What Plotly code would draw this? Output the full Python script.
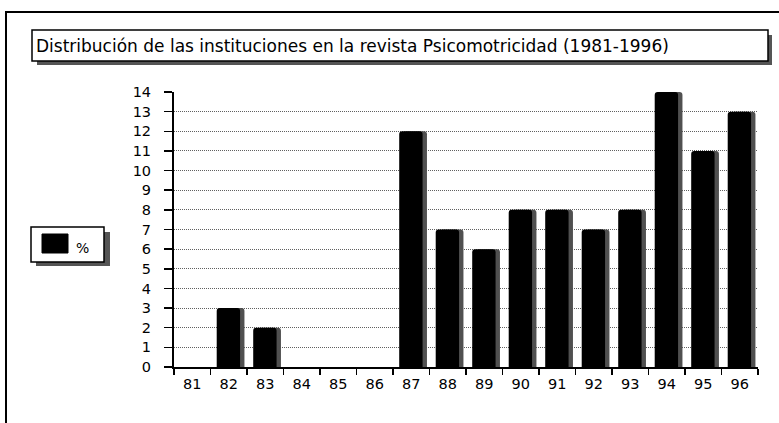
import plotly.graph_objects as go

categories = ["81", "82", "83", "84", "85", "86", "87", "88", "89", "90", "91", "92", "93", "94", "95", "96"]
values = [0, 3, 2, 0, 0, 0, 12, 7, 6, 8, 8, 7, 8, 14, 11, 13]
y_ticks = list(range(0, 15))
title_text = "Distribución de las instituciones en la revista Psicomotricidad (1981-1996)"
legend_label = "%"

W, H = 779, 423
L, R, T, B = 174, 21, 92, 56
pw, ph = W - L - R, H - T - B

def px(x):
    return (x - L) / pw

def py(y):
    return (H - B - y) / ph

FONT = "DejaVu Sans, Verdana, sans-serif"

fig = go.Figure()
# shadow bars
fig.add_trace(go.Bar(x=categories, y=values, width=0.64, offset=-0.21,
                     marker=dict(color="#505050", line=dict(width=0), cornerradius=3),
                     showlegend=False, hoverinfo="skip"))
# main bars
fig.add_trace(go.Bar(x=categories, y=values, width=0.64, offset=-0.33, name=legend_label,
                     marker=dict(color="#000000", line=dict(width=0), cornerradius=3),
                     showlegend=False))

shapes = []
# outer frame (left and top lines)
shapes.append(dict(type="path", xref="paper", yref="paper",
                   path=f"M {px(6)},{py(440)} L {px(6)},{py(12)} L {px(790)},{py(12)}",
                   line=dict(color="black", width=2)))
# title box shadow + box
shapes.append(dict(type="rect", xref="paper", yref="paper",
                   x0=px(37), x1=px(772), y0=py(65), y1=py(35),
                   fillcolor="#555555", line=dict(width=0), layer="below"))
shapes.append(dict(type="rect", xref="paper", yref="paper",
                   x0=px(32), x1=px(768), y0=py(61), y1=py(30),
                   fillcolor="white", line=dict(color="black", width=1.5), layer="below"))
# legend box shadow + box
shapes.append(dict(type="rect", xref="paper", yref="paper",
                   x0=px(36), x1=px(110), y0=py(266), y1=py(232),
                   fillcolor="#555555", line=dict(width=0)))
shapes.append(dict(type="rect", xref="paper", yref="paper",
                   x0=px(31), x1=px(104), y0=py(262), y1=py(227),
                   fillcolor="white", line=dict(color="black", width=1.5)))
# legend swatch
shapes.append(dict(type="rect", xref="paper", yref="paper",
                   x0=px(42), x1=px(68), y0=py(253), y1=py(234),
                   fillcolor="black", line=dict(color="black", width=1)))

fig.update_layout(
    width=W, height=H,
    margin=dict(l=L, r=R, t=T, b=B, autoexpand=False),
    paper_bgcolor="white", plot_bgcolor="white",
    barmode="overlay",
    showlegend=False,
    font=dict(family=FONT, color="black", size=14),
    title=dict(text=title_text, xref="container", yref="container", x=36 / W, xanchor="left",
               y=1 - 46 / H, yanchor="middle", font=dict(family=FONT, size=17, color="black")),
    shapes=shapes,
    annotations=[dict(text=legend_label, xref="paper", yref="paper", x=px(74), y=py(248),
                      xanchor="left", yanchor="middle", showarrow=False,
                      font=dict(family=FONT, size=14, color="black"))],
    xaxis=dict(type="category", categoryorder="array", categoryarray=categories,
               range=[-0.5, len(categories) - 0.5],
               showline=True, linecolor="black", linewidth=2,
               ticks="outside", tickson="boundaries", ticklen=6, tickcolor="black", tickwidth=1.5,
               showgrid=False, tickfont=dict(family=FONT, size=14.5, color="black"),
               ticklabelstandoff=3, fixedrange=True),
    yaxis=dict(range=[0, 14], tickvals=y_ticks, ticktext=[str(v) for v in y_ticks],
               showline=True, linecolor="black", linewidth=2,
               ticks="outside", ticklen=8, tickcolor="black", tickwidth=1.5,
               showgrid=True, gridcolor="#606060", gridwidth=1, griddash="1px,1px",
               zeroline=False, tickfont=dict(family=FONT, size=14.5, color="black"),
               ticklabelstandoff=10, fixedrange=True),
)

fig.write_html("out.html", config={"displayModeBar": False, "staticPlot": True},
               post_script="document.body.style.margin='0px';")
